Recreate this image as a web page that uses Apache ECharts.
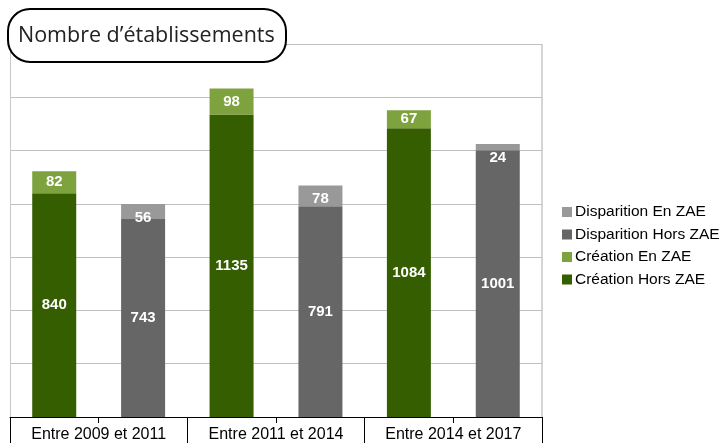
<!DOCTYPE html>
<html>
<head>
<meta charset="utf-8">
<script src="https://cdn.jsdelivr.net/npm/echarts@6/dist/echarts.min.js"></script>
<style>
  html, body { margin: 0; padding: 0; background: #fff; }
  #chart { width: 725px; height: 443px; }
</style>
</head>
<body>
<div id="chart"></div>
<script>
// Données
const categories = ['Entre 2009 et 2011', 'Entre 2011 et 2014', 'Entre 2014 et 2017'];
const creationHorsZAE = [840, 1135, 1084];
const creationEnZAE = [82, 98, 67];
const disparitionHorsZAE = [743, 791, 1001];
const disparitionEnZAE = [56, 78, 24];
const legendOrder = ['Disparition En ZAE', 'Disparition Hors ZAE', 'Création En ZAE', 'Création Hors ZAE'];

const labelFont = '"Liberation Sans Narrow", "Liberation Sans", Arial, sans-serif';

function barLabel(position, distance) {
    return {
        show: true,
        position: position || 'inside',
        distance: distance || 5,
        color: '#ffffff',
        fontFamily: labelFont,
        fontWeight: 'bold',
        fontSize: 15
    };
}

function initChart() {
    const chartDom = document.getElementById('chart');
    const myChart = echarts.init(chartDom, null, { renderer: 'canvas' });

    const option = {
        animation: false,
        grid: { left: 10, right: 183, top: 44, bottom: 26 },
        legend: {
            data: legendOrder,
            orient: 'vertical',
            left: 557,
            top: 199,
            itemWidth: 10,
            itemHeight: 10,
            itemGap: 6.5,
            icon: 'rect',
            textStyle: {
                fontFamily: '"Liberation Sans", Arial, sans-serif',
                fontSize: 15.5,
                color: '#000',
                padding: [0, 0, 0, -2]
            }
        },
        xAxis: [
            {
                type: 'category',
                data: categories,
                axisLine: { show: true, lineStyle: { color: '#000', width: 1 } },
                axisTick: { show: true, length: 26, lineStyle: { color: '#000' } },
                axisLabel: {
                    fontFamily: '"Liberation Sans", Arial, sans-serif',
                    fontSize: 16,
                    color: '#000',
                    margin: 10
                },
                splitLine: { show: false }
            },
            {
                type: 'category',
                data: categories,
                position: 'bottom',
                axisLine: { show: false },
                axisTick: { show: true, alignWithLabel: true, length: 6, lineStyle: { color: '#000' } },
                axisLabel: { show: false }
            }
        ],
        yAxis: {
            type: 'value',
            min: 0,
            max: 1400,
            interval: 200,
            axisLabel: { show: false },
            axisLine: { show: true, lineStyle: { color: '#c8c8c8' } },
            axisTick: { show: false },
            splitLine: { lineStyle: { color: '#c0c0c0' } }
        },
        graphic: [
            {
                type: 'rect',
                shape: { x: 542, y: 44, width: 0, height: 373 },
                style: { stroke: '#c8c8c8', lineWidth: 1 },
                silent: true
            },
            {
                type: 'rect',
                shape: { x: 8, y: 9, width: 278, height: 53, r: 22 },
                style: { fill: '#fff', stroke: '#000', lineWidth: 2 },
                z: 100
            },
            {
                type: 'text',
                left: 18,
                top: 25,
                style: {
                    text: 'Nombre d\u2019établissements',
                    fontFamily: '"Open Sans", sans-serif',
                    fontSize: 21.5,
                    fill: '#222'
                },
                z: 101
            }
        ],
        series: [
            {
                name: 'Création Hors ZAE',
                type: 'bar',
                stack: 'creation',
                barWidth: 44,
                barGap: '102%',
                data: creationHorsZAE,
                itemStyle: { color: '#355e00' },
                label: barLabel()
            },
            {
                name: 'Création En ZAE',
                type: 'bar',
                stack: 'creation',
                barWidth: 44,
                data: creationEnZAE,
                itemStyle: { color: '#7ea33e' },
                label: barLabel()
            },
            {
                name: 'Disparition Hors ZAE',
                type: 'bar',
                stack: 'disparition',
                barWidth: 44,
                data: disparitionHorsZAE,
                itemStyle: { color: '#666666' },
                label: barLabel()
            },
            {
                name: 'Disparition En ZAE',
                type: 'bar',
                stack: 'disparition',
                barWidth: 44,
                data: disparitionEnZAE,
                itemStyle: { color: '#999999' },
                label: barLabel('insideTop', 6)
            }
        ]
    };

    myChart.setOption(option);
    return myChart;
}

initChart();
</script>
</body>
</html>
